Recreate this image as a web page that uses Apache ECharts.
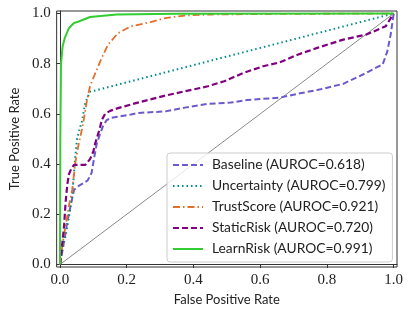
<!DOCTYPE html>
<html>
<head>
<meta charset="utf-8">
<script src="https://cdn.jsdelivr.net/npm/echarts@6/dist/echarts.min.js"></script>
<style>html,body{margin:0;padding:0;background:#fff;}#c{width:410px;height:314px;}</style>
</head>
<body>
<div id="c"></div>
<script>
const tickValues = [0, 0.2, 0.4, 0.6, 0.8, 1.0];
const seriesNames = ['Baseline (AUROC=0.618)', 'Uncertainty (AUROC=0.799)', 'TrustScore (AUROC=0.921)', 'StaticRisk (AUROC=0.720)', 'LearnRisk (AUROC=0.991)'];

const baselineFPR = [0,0.012,0.022,0.032,0.042,0.056,0.071,0.083,0.095,0.103,0.11,0.12,0.13,0.14,0.155,0.213,0.237,0.316,0.374,0.443,0.512,0.56,0.609,0.66,0.712,0.781,0.849,0.908,0.947,0.967,0.981,0.991,1];
const baselineTPR = [0,0.09,0.17,0.235,0.297,0.313,0.325,0.335,0.366,0.43,0.48,0.52,0.555,0.575,0.585,0.598,0.604,0.61,0.625,0.64,0.645,0.655,0.66,0.665,0.68,0.698,0.72,0.757,0.784,0.797,0.849,0.916,1];

const uncertaintyFPR = [0,0.002,0.007,0.017,0.027,0.037,0.046,0.051,0.056,0.066,0.076,0.09,1];
const uncertaintyTPR = [0,0.02,0.06,0.116,0.19,0.28,0.433,0.5,0.526,0.572,0.645,0.688,1];

const trustFPR = [0,0.002,0.007,0.017,0.027,0.037,0.046,0.056,0.066,0.071,0.081,0.09,0.105,0.125,0.144,0.174,0.213,0.272,0.316,0.374,0.45,0.6,1];
const trustTPR = [0,0.01,0.076,0.156,0.235,0.3,0.407,0.48,0.54,0.575,0.655,0.71,0.76,0.823,0.876,0.922,0.949,0.966,0.982,0.992,0.996,0.998,1];

const staticFPR = [0,0.007,0.012,0.017,0.022,0.027,0.035,0.042,0.076,0.09,0.1,0.105,0.12,0.125,0.135,0.15,0.174,0.233,0.316,0.374,0.443,0.492,0.551,0.609,0.658,0.712,0.771,0.849,0.918,0.976,1];
const staticTPR = [0,0.085,0.15,0.25,0.32,0.36,0.385,0.397,0.397,0.42,0.45,0.48,0.545,0.575,0.6,0.612,0.623,0.645,0.673,0.69,0.71,0.73,0.764,0.79,0.805,0.836,0.863,0.896,0.916,0.949,1];

const learnFPR = [0,0.001,0.003,0.008,0.015,0.027,0.042,0.056,0.09,0.17,0.35,1];
const learnTPR = [0,0.5,0.8,0.87,0.905,0.942,0.962,0.968,0.986,0.996,0.999,1];

const diagFPR = [0, 1];
const diagTPR = [0, 1];

function pairs(xs, ys) { return xs.map((x, i) => [x, ys[i]]); }

const serifFont = 'Liberation Serif';
const sansFont = 'Lato';

const chart = echarts.init(document.getElementById('c'), null, {renderer: 'canvas'});
const axisCommon = {
  type: 'value', min: -0.01, max: 1.01,
  axisLine: {show: true, lineStyle: {color: '#333', width: 1}},
  axisTick: {show: true, inside: false, length: 3.5, customValues: tickValues, lineStyle: {color: '#333', width: 1}},
  axisLabel: {customValues: tickValues, formatter: v => v.toFixed(1), fontFamily: serifFont, fontSize: 15, color: '#222'},
  splitLine: {show: false},
  nameLocation: 'middle',
  nameTextStyle: {fontFamily: sansFont, fontSize: 13, color: '#222'}
};
chart.setOption({
  animation: false,
  grid: {left: 49, right: 13, top: 11, bottom: 47, show: true, borderColor: '#333', borderWidth: 1, backgroundColor: 'transparent'},
  xAxis: Object.assign({}, axisCommon, {name: 'False Positive Rate', nameGap: 25,
    axisLabel: Object.assign({}, axisCommon.axisLabel, {margin: 6})}),
  yAxis: Object.assign({}, axisCommon, {name: 'True Positive Rate', nameGap: 30,
    axisLabel: Object.assign({}, axisCommon.axisLabel, {margin: 6})}),
  legend: {
    orient: 'vertical', left: 167, top: 153,
    data: seriesNames,
    itemWidth: 30, itemHeight: 14, itemGap: 7,
    padding: [5, 7, 6, 5],
    backgroundColor: 'rgba(255,255,255,0.8)',
    borderColor: '#ccc', borderWidth: 1, borderRadius: 3,
    itemStyle: {opacity: 0},
    textStyle: {fontFamily: sansFont, fontSize: 13.8, color: '#222', padding: [0, 0, 0, 4]}
  },
  series: [
    {type: 'line', name: 'diag', data: pairs(diagFPR, diagTPR), symbol: 'none', lineStyle: {color: '#888', width: 1}, z: 1, silent: true},
    {type: 'line', name: seriesNames[0], data: pairs(baselineFPR, baselineTPR), symbol: 'none', color: '#6a5acd', lineStyle: {color: '#6a5acd', width: 2, type: [6, 3]}, z: 2},
    {type: 'line', name: seriesNames[1], data: pairs(uncertaintyFPR, uncertaintyTPR), symbol: 'none', color: '#008b8b', lineStyle: {color: '#008b8b', width: 2, type: [1.5, 3]}, z: 3},
    {type: 'line', name: seriesNames[2], data: pairs(trustFPR, trustTPR), symbol: 'none', color: '#e2702a', lineStyle: {color: '#e2702a', width: 1.8, type: [7, 3, 1.5, 3]}, z: 4},
    {type: 'line', name: seriesNames[3], data: pairs(staticFPR, staticTPR), symbol: 'none', color: '#800080', lineStyle: {color: '#800080', width: 2.2, type: [6, 3]}, z: 5},
    {type: 'line', name: seriesNames[4], data: pairs(learnFPR, learnTPR), symbol: 'none', color: '#32cd32', lineStyle: {color: '#32cd32', width: 2}, z: 6}
  ]
});
</script>
</body>
</html>
